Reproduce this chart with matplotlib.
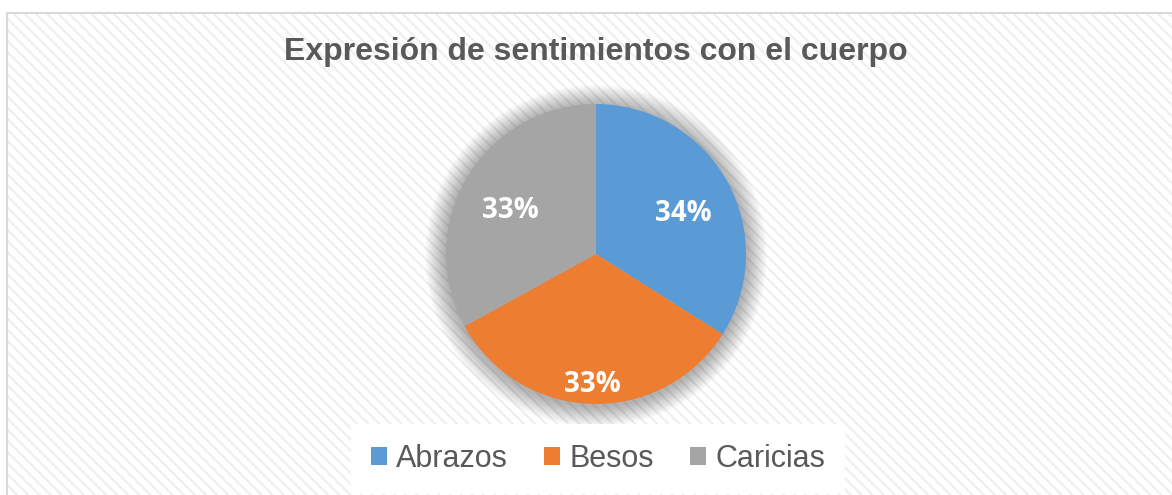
import numpy as np
import matplotlib
matplotlib.use("Agg")
import matplotlib.pyplot as plt
from matplotlib.patches import Rectangle, Circle, Patch

# data
labels = ["Abrazos", "Besos", "Caricias"]
values = [34, 33, 33]
colors = ["#5B9BD5", "#ED7D31", "#A5A5A5"]
title = "Expresión de sentimientos con el cuerpo"

W, H = 1172, 495
fig = plt.figure(figsize=(W / 100, H / 100), dpi=100)
fig.patch.set_facecolor("white")

# chart area background with light diagonal pattern and border
plt.rcParams["hatch.linewidth"] = 1.6
bg = Rectangle((7 / W, 0), 1.0, 1 - 13 / H, transform=fig.transFigure,
               facecolor="white", edgecolor="#EFEFEF", linewidth=0, hatch="\\\\\\", zorder=-2)
fig.patches.append(bg)
border = Rectangle((7 / W, -0.01), 1.0, 1 - 13 / H + 0.01, transform=fig.transFigure,
                   facecolor="none", edgecolor="#D9D9D9", linewidth=1.5, zorder=-1)
fig.patches.append(border)

# pie axes (bigger than pie so the shadow shows)
cx, cy, r = 596, 254, 150
half = 200
ax = fig.add_axes([(cx - half) / W, (H - cy - half) / H, 2 * half / W, 2 * half / H])
ax.patch.set_visible(False)
ax.axis("off")

# soft shadow
for k in range(20):
    rr = 1.0 + 0.007 * (k + 1)
    ax.add_patch(Circle((0, -0.012), rr, facecolor="black", edgecolor="none",
                        alpha=0.014, zorder=1))

wedges, texts, autotexts = ax.pie(values, colors=colors, startangle=90, counterclock=False,
                                  autopct="%1.0f%%", radius=1.0,
                                  wedgeprops=dict(linewidth=0, zorder=2),
                                  textprops=dict(color="white", fontsize=20, fontweight="bold",
                                                 family=["Open Sans", "DejaVu Sans"]))
ax.set_xlim(-half / r, half / r)
ax.set_ylim(-half / r, half / r)

# Excel-like label placement
dists = [0.665, 0.85, 0.665]
shift = [-0.05, -0.02, -0.05]
for w, t, d, s in zip(wedges, autotexts, dists, shift):
    ang = np.deg2rad((w.theta1 + w.theta2) / 2)
    t.set_position((d * np.cos(ang), d * np.sin(ang) + s))
    t.set_zorder(5)

fig.text(cx / W, 1 - 52 / H, title, ha="center", va="center", fontsize=23,
         fontweight="bold", color="#595959", family=["Liberation Sans", "DejaVu Sans"])

handles = [Patch(facecolor=c, edgecolor="none", label=l) for c, l in zip(colors, labels)]
leg = fig.legend(handles=handles, loc="center", bbox_to_anchor=(598 / W, 1 - 459 / H),
                 ncol=3, frameon=True, handlelength=0.52, handleheight=0.52,
                 handletextpad=0.3, columnspacing=1.2, borderpad=0.4,
                 prop=dict(family=["Liberation Sans", "DejaVu Sans"], size=22))
frame = leg.get_frame()
frame.set_facecolor("white")
frame.set_edgecolor("none")
frame.set_alpha(1)
frame.set_boxstyle("square", pad=0.25)
for t in leg.get_texts():
    t.set_color("#595959")

fig.savefig("out.png", dpi=100, facecolor=fig.get_facecolor())
